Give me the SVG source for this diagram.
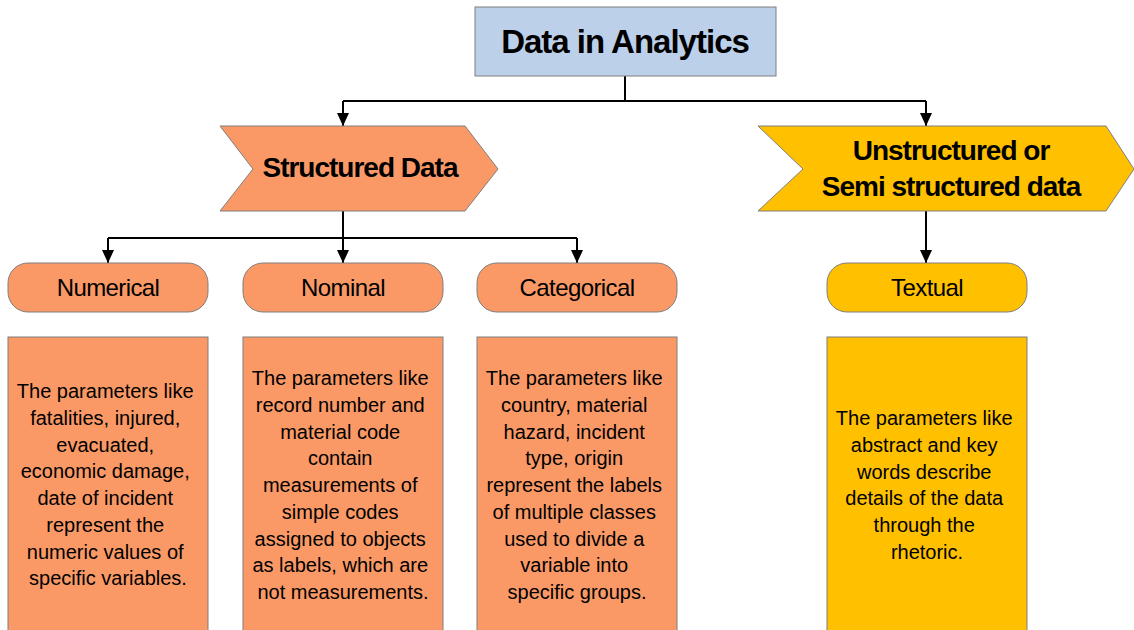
<svg xmlns="http://www.w3.org/2000/svg" width="1134" height="630" viewBox="0 0 1134 630">
  <style>
    text { font-family: "Liberation Sans", Arial, sans-serif; fill: #000; text-anchor: middle; }
    .title { font-size: 33px; font-weight: bold; letter-spacing: -1px; }
    .head { font-size: 28px; font-weight: bold; letter-spacing: -1px; }
    .pill { font-size: 24px; letter-spacing: -0.6px; }
    .body { font-size: 20px; }
    .shape { stroke: #7f7f7f; stroke-width: 1; }
    .blue { fill: #bdd0e9; }
    .salmon { fill: #fa9966; }
    .gold { fill: #ffc000; }
    .wire { fill: none; stroke: #000; stroke-width: 2; }
  </style>
  <defs>
    <!-- filled triangular arrowhead, tip at the end of the path -->
    <marker id="arrow" viewBox="0 0 13 12" refX="13" refY="6" markerWidth="13" markerHeight="12" markerUnits="userSpaceOnUse" orient="auto">
      <path d="M0,0 L13,6 L0,12 Z" fill="#000"/>
    </marker>
  </defs>
  <rect width="1134" height="630" fill="#fff"/>

  <!-- connectors -->
  <g id="connectors">
    <path class="wire" d="M625,76 V101"/>
    <path class="wire" d="M343,101 H926"/>
    <path class="wire" d="M343,101 V126" marker-end="url(#arrow)"/>
    <path class="wire" d="M926,101 V126" marker-end="url(#arrow)"/>
    <path class="wire" d="M343,211 V238"/>
    <path class="wire" d="M108,238 H577"/>
    <path class="wire" d="M108,238 V263" marker-end="url(#arrow)"/>
    <path class="wire" d="M343,238 V263" marker-end="url(#arrow)"/>
    <path class="wire" d="M577,238 V263" marker-end="url(#arrow)"/>
    <path class="wire" d="M926,211 V263" marker-end="url(#arrow)"/>
  </g>

  <!-- root -->
  <g id="data-in-analytics">
    <rect class="shape blue" x="475" y="7" width="301" height="69"/>
    <text class="title" x="625" y="53">Data in Analytics</text>
  </g>

  <!-- level 1 -->
  <g id="structured-data">
    <polygon class="shape salmon" points="220,126 465,126 498,169 465,211 220,211 253,169"/>
    <text class="head" x="360" y="177">Structured Data</text>
  </g>
  <g id="unstructured-data">
    <polygon class="shape gold" points="758,126 1106,126 1134,169 1106,211 758,211 803,169"/>
    <text class="head" x="951" y="160">Unstructured or</text>
    <text class="head" x="951" y="196">Semi structured data</text>
  </g>

  <!-- level 2 -->
  <g id="numerical">
    <rect class="shape salmon" x="8" y="263" width="200" height="49" rx="20"/>
    <text class="pill" x="108" y="296">Numerical</text>
  </g>
  <g id="nominal">
    <rect class="shape salmon" x="243" y="263" width="200" height="49" rx="20"/>
    <text class="pill" x="343" y="296">Nominal</text>
  </g>
  <g id="categorical">
    <rect class="shape salmon" x="477" y="263" width="200" height="49" rx="20"/>
    <text class="pill" x="577" y="296">Categorical</text>
  </g>
  <g id="textual">
    <rect class="shape gold" x="827" y="263" width="200" height="49" rx="20"/>
    <text class="pill" x="927" y="296">Textual</text>
  </g>

  <!-- descriptions -->
  <g id="numerical-desc">
    <rect class="shape salmon" x="8" y="337" width="200" height="300"/>
    <text class="body" x="108" y="398">
      <tspan x="108">The parameters like</tspan>
      <tspan x="108" dy="26.75">fatalities, injured,</tspan>
      <tspan x="108" dy="26.75">evacuated,</tspan>
      <tspan x="108" dy="26.75">economic damage,</tspan>
      <tspan x="108" dy="26.75">date of incident</tspan>
      <tspan x="108" dy="26.75">represent the</tspan>
      <tspan x="108" dy="26.75">numeric values of</tspan>
      <tspan x="108" dy="26.75">specific variables.</tspan>
    </text>
  </g>
  <g id="nominal-desc">
    <rect class="shape salmon" x="243" y="337" width="200" height="300"/>
    <text class="body" x="343" y="385">
      <tspan x="343">The parameters like</tspan>
      <tspan x="343" dy="26.75">record number and</tspan>
      <tspan x="343" dy="26.75">material code</tspan>
      <tspan x="343" dy="26.75">contain</tspan>
      <tspan x="343" dy="26.75">measurements of</tspan>
      <tspan x="343" dy="26.75">simple codes</tspan>
      <tspan x="343" dy="26.75">assigned to objects</tspan>
      <tspan x="343" dy="26.75">as labels, which are</tspan>
      <tspan x="343" dy="26.75">not measurements.</tspan>
    </text>
  </g>
  <g id="categorical-desc">
    <rect class="shape salmon" x="477" y="337" width="200" height="300"/>
    <text class="body" x="577" y="385">
      <tspan x="577">The parameters like</tspan>
      <tspan x="577" dy="26.75">country, material</tspan>
      <tspan x="577" dy="26.75">hazard, incident</tspan>
      <tspan x="577" dy="26.75">type, origin</tspan>
      <tspan x="577" dy="26.75">represent the labels</tspan>
      <tspan x="577" dy="26.75">of multiple classes</tspan>
      <tspan x="577" dy="26.75">used to divide a</tspan>
      <tspan x="577" dy="26.75">variable into</tspan>
      <tspan x="577" dy="26.75">specific groups.</tspan>
    </text>
  </g>
  <g id="textual-desc">
    <rect class="shape gold" x="827" y="337" width="200" height="300"/>
    <text class="body" x="927" y="425">
      <tspan x="927">The parameters like</tspan>
      <tspan x="927" dy="26.75">abstract and key</tspan>
      <tspan x="927" dy="26.75">words describe</tspan>
      <tspan x="927" dy="26.75">details of the data</tspan>
      <tspan x="927" dy="26.75">through the</tspan>
      <tspan x="927" dy="26.75">rhetoric.</tspan>
    </text>
  </g>
</svg>
